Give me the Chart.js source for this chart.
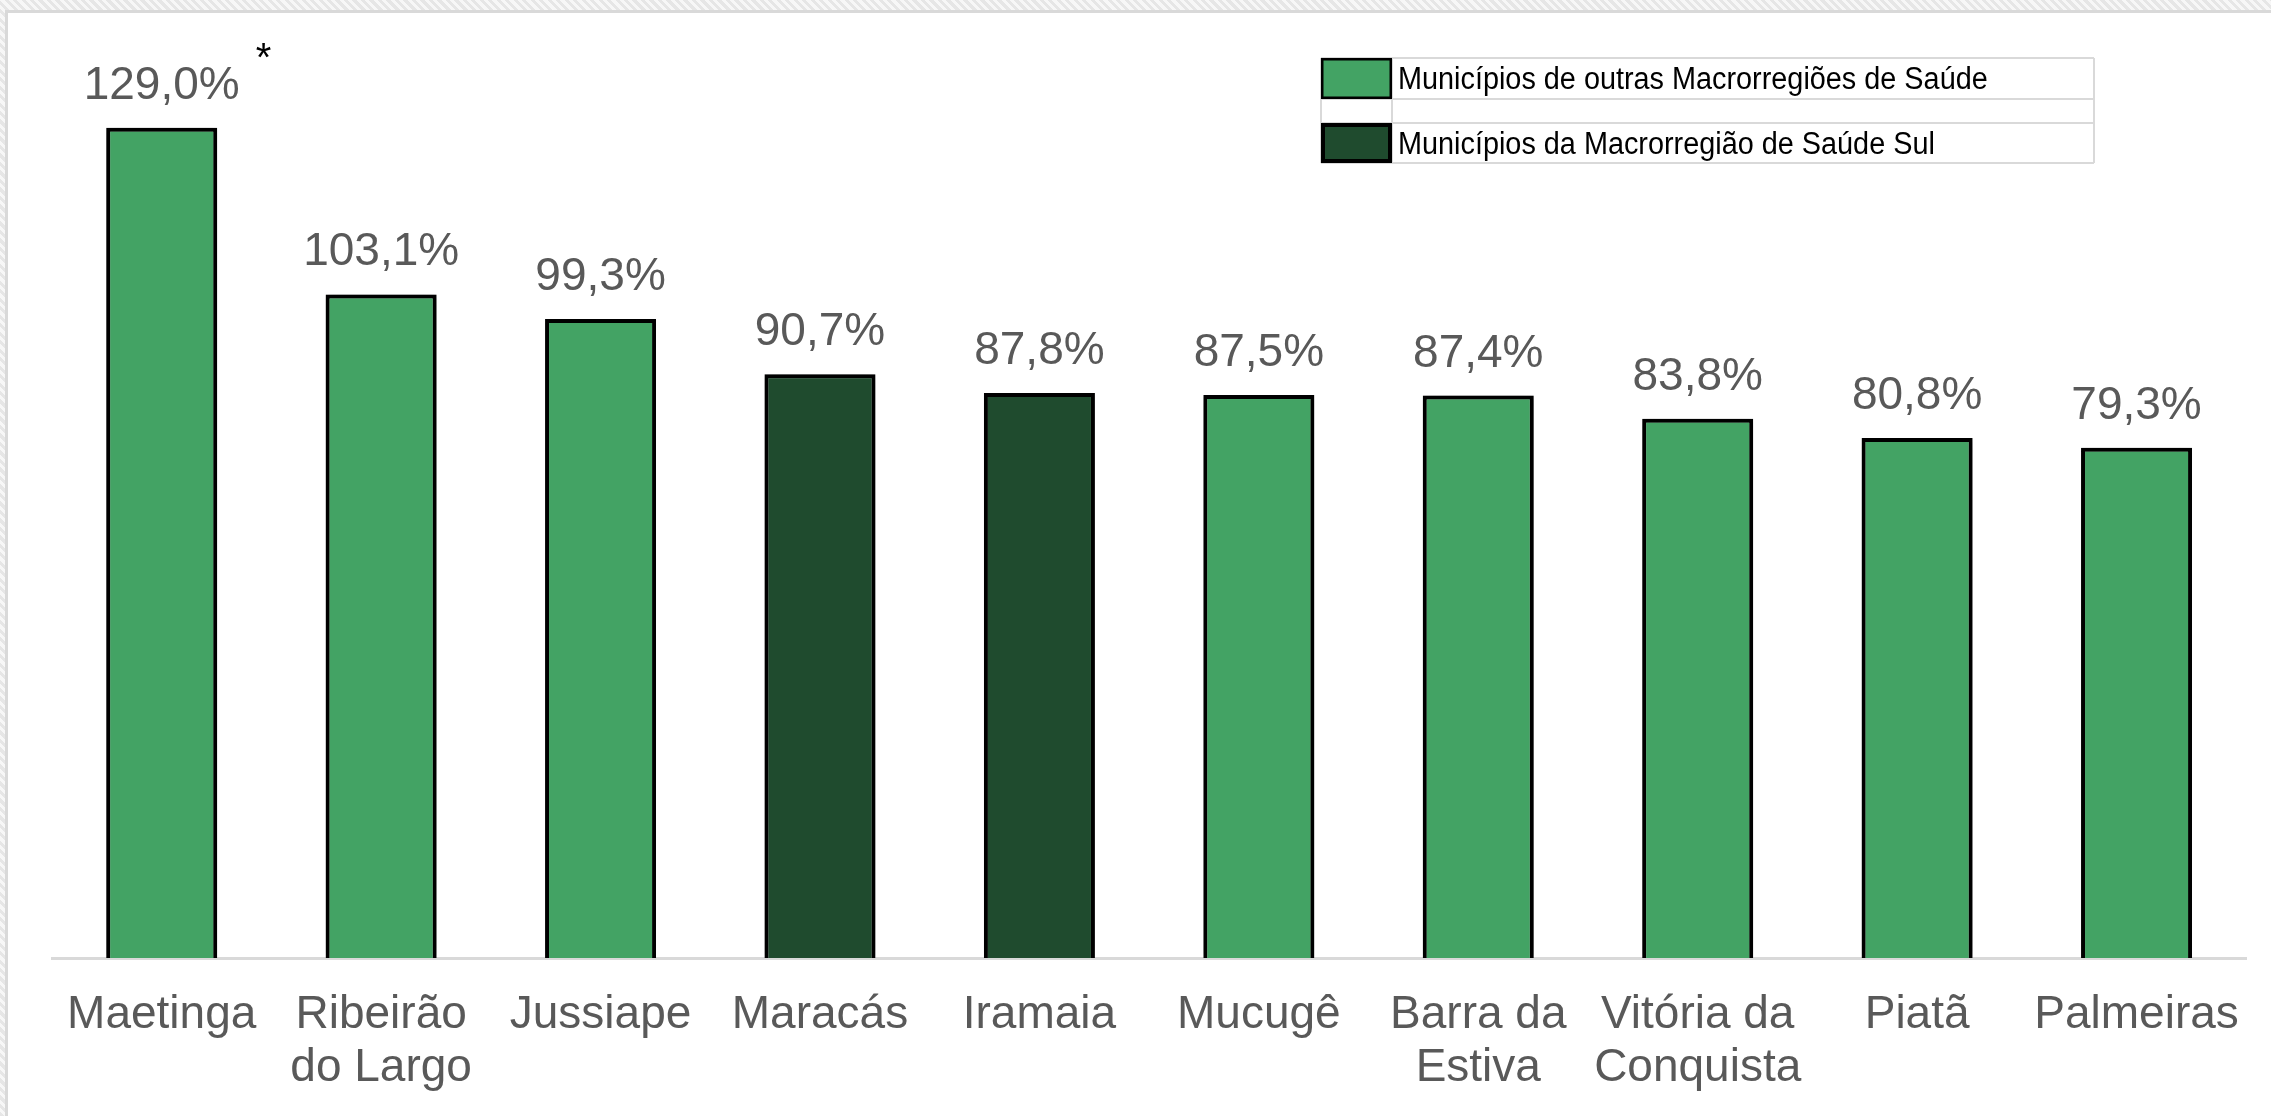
<!DOCTYPE html>
<html>
<head>
<meta charset="utf-8">
<script src="https://cdn.jsdelivr.net/npm/chart.js@4.4.1/dist/chart.umd.min.js"></script>
<style>
  html, body { margin: 0; padding: 0; width: 2271px; height: 1116px; overflow: hidden;
    background: repeating-linear-gradient(45deg, #e6e6e6 0px, #e6e6e6 3px, #f7f7f7 3px, #f7f7f7 6px); }
  #wrap { position: absolute; left: 5px; top: 10px; width: 2266px; height: 1106px; overflow: hidden;
    border-top: 3px solid #d9d9d9; border-left: 3px solid #d9d9d9; background: #fff; }
  canvas { display: block; }
</style>
</head>
<body>
<div id="wrap"><canvas id="c" width="2263" height="1133"></canvas></div>
<script>
const categories = ['Maetinga', ['Ribeirão', 'do Largo'], 'Jussiape', 'Maracás', 'Iramaia', 'Mucugê', ['Barra da', 'Estiva'], ['Vitória da', 'Conquista'], 'Piatã', 'Palmeiras'];
const outrasValues = [129.0, 103.1, 99.3, null, null, 87.5, 87.4, 83.8, 80.8, 79.3];
const sulValues = [null, null, null, 90.7, 87.8, null, null, null, null, null];
const notes = ['*', '', '', '', '', '', '', '', '', ''];
const seriesNames = ['Municípios de outras Macrorregiões de Saúde', 'Municípios da Macrorregião de Saúde Sul'];

const LIGHT = '#43a364';
const DARK = '#1f4b2e';
const FONT = '"Liberation Sans", Arial, sans-serif';

const shadowPlugin = {
  id: 'barShadow',
  beforeDatasetsDraw(chart) {
    const ctx = chart.ctx;
    ctx.save();
    ctx.shadowColor = 'rgba(0,0,0,0.4)';
    ctx.shadowBlur = 10;
    ctx.shadowOffsetX = 0;
    ctx.shadowOffsetY = 0;
  },
  afterDatasetsDraw(chart) {
    chart.ctx.restore();
  }
};

const labelPlugin = {
  id: 'valueLabels',
  afterDatasetsDraw(chart) {
    const ctx = chart.ctx;
    ctx.save();
    chart.data.datasets.forEach((ds, di) => {
      const meta = chart.getDatasetMeta(di);
      meta.data.forEach((bar, i) => {
        const v = ds.data[i];
        if (v === null || v === undefined) return;
        const txt = v.toFixed(1).replace('.', ',') + '%';
        ctx.font = '46px ' + FONT;
        ctx.fillStyle = '#595959';
        ctx.textAlign = 'center';
        ctx.textBaseline = 'alphabetic';
        ctx.fillText(txt, bar.x, bar.y - 29);
        if (notes[i]) {
          const w = ctx.measureText(txt).width;
          ctx.font = '40px ' + FONT;
          ctx.fillStyle = '#000';
          ctx.textAlign = 'left';
          ctx.fillText(notes[i], bar.x + w / 2 + 16, bar.y - 57);
        }
      });
    });
    ctx.restore();
  }
};

const legendPlugin = {
  id: 'boxLegend',
  afterDraw(chart) {
    const ctx = chart.ctx;
    const x0 = 1313, x1 = 1384, x2 = 2086;
    const rows = [[45, 86], [110, 150]];
    const fills = [LIGHT, DARK];
    ctx.save();
    ctx.strokeStyle = '#d9d9d9';
    ctx.lineWidth = 2;
    [45, 86, 110, 150].forEach(y => { ctx.beginPath(); ctx.moveTo(x0, y); ctx.lineTo(x2, y); ctx.stroke(); });
    [x0, x1, x2].forEach(x => { ctx.beginPath(); ctx.moveTo(x, 45); ctx.lineTo(x, 150); ctx.stroke(); });
    rows.forEach((r, i) => {
      ctx.fillStyle = fills[i];
      ctx.fillRect(x0, r[0], x1 - x0, r[1] - r[0]);
      ctx.strokeStyle = '#000';
      ctx.lineWidth = i === 0 ? 2.5 : 4;
      const o = ctx.lineWidth / 2;
      ctx.strokeRect(x0 + o, r[0] + o, x1 - x0 - 2 * o, r[1] - r[0] - 2 * o);
      ctx.save();
      ctx.fillStyle = '#000';
      ctx.font = '31px ' + FONT;
      ctx.textAlign = 'left';
      ctx.textBaseline = 'alphabetic';
      ctx.translate(1390, r[0] + 31);
      ctx.scale(0.93, 1);
      ctx.fillText(seriesNames[i], 0, 0);
      ctx.restore();
    });
    ctx.restore();
  }
};

new Chart(document.getElementById('c'), {
  type: 'bar',
  data: {
    labels: categories,
    datasets: [
      { label: seriesNames[0], data: outrasValues, backgroundColor: LIGHT, borderColor: '#000', borderWidth: 4, borderSkipped: 'bottom' },
      { label: seriesNames[1], data: sulValues, backgroundColor: DARK, borderColor: '#000', borderWidth: 4, borderSkipped: 'bottom' }
    ]
  },
  options: {
    responsive: false,
    animation: false,
    devicePixelRatio: 1,
    layout: { padding: { left: 44, right: 24, top: 44, bottom: 20 } },
    datasets: { bar: { grouped: false, barPercentage: 0.506, categoryPercentage: 1 } },
    plugins: { legend: { display: false }, tooltip: { enabled: false } },
    scales: {
      y: { display: false, min: 0, max: 140 },
      x: {
        grid: { display: false, drawTicks: false },
        border: { display: true, color: '#d9d9d9', width: 3 },
        ticks: { color: '#595959', font: { family: FONT, size: 46, lineHeight: 1.152 }, padding: 31, maxRotation: 0, autoSkip: false }
      }
    }
  },
  plugins: [shadowPlugin, labelPlugin, legendPlugin]
});
</script>
</body>
</html>
